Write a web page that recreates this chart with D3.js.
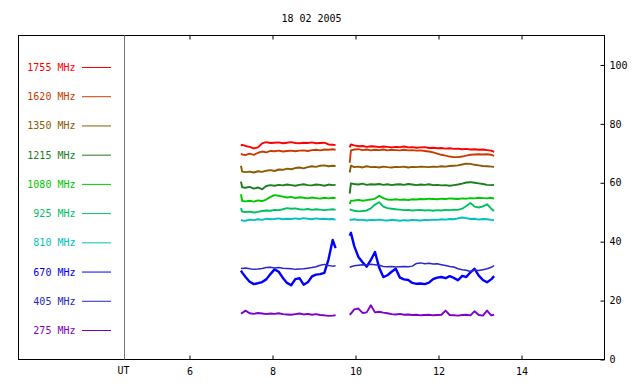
<!DOCTYPE html>
<html>
<head>
<meta charset="utf-8">
<script src="https://cdn.jsdelivr.net/npm/d3@7"></script>
<style>
  body { margin: 0; background: #fff; }
  text { font-family: "DejaVu Sans Mono", monospace; font-size: 10px; }
</style>
</head>
<body>
<div id="chart"></div>
<script>
const width = 640, height = 384;
const frame = {left: 18.5, right: 604.5, top: 35.5, bottom: 359.5, ut: 124.5};

const title = "18 02 2005";
const freqs = ["1755 MHz", "1620 MHz", "1350 MHz", "1215 MHz", "1080 MHz",
    "925 MHz", "810 MHz", "670 MHz", "405 MHz", "275 MHz"];
const colors = ["#ff0000", "#c83c00", "#8c5a00", "#1e7d1e", "#00c800",
    "#00c064", "#00c0c0", "#0000ff", "#2828c8", "#8000c8"];
const hourTicks = [6, 8, 10, 12, 14];
const fluxTicks = [0, 20, 40, 60, 80, 100];

// time (UT hours) of the two observing runs
const t1 = [7.24, 7.27, 7.35, 7.45, 7.55, 7.65, 7.75, 7.85, 7.95, 8.05, 8.15, 8.25, 8.35,
    8.45, 8.55, 8.65, 8.75, 8.85, 8.95, 9.05, 9.15, 9.25, 9.35, 9.45, 9.52];
const t2 = [9.86, 9.89, 9.97, 10.07, 10.17, 10.27, 10.37, 10.47, 10.57, 10.67, 10.77, 10.87,
    10.97, 11.07, 11.17, 11.27, 11.37, 11.47, 11.57, 11.67, 11.77, 11.87, 11.97, 12.07, 12.17,
    12.27, 12.37, 12.47, 12.57, 12.67, 12.77, 12.87, 12.97, 13.07, 13.17, 13.27, 13.34];

const f1755a = [72.6, 72.9, 72.5, 72.2, 71.7, 72.0, 73.4, 73.8, 73.5, 73.6, 73.7, 73.4, 73.6, 73.8, 73.5, 73.4, 73.6, 73.5, 73.7, 73.4, 73.5, 73.6, 73.0, 72.9, 72.8];
const f1755b = [72.0, 73.0, 72.7, 72.4, 72.5, 72.2, 72.4, 72.3, 72.1, 72.3, 72.2, 72.0, 72.2, 72.1, 72.3, 72.0, 72.1, 71.9, 72.0, 72.1, 71.8, 71.9, 71.7, 71.8, 71.6, 71.7, 71.5, 71.6, 71.4, 71.5, 71.3, 71.4, 71.2, 71.3, 71.1, 70.9, 70.5];
const f1620a = [69.9, 69.6, 69.4, 69.9, 69.5, 70.2, 70.6, 70.3, 70.8, 70.7, 70.9, 70.6, 70.8, 70.9, 70.7, 70.9, 71.0, 70.8, 71.1, 71.2, 71.0, 71.3, 71.2, 71.4, 71.2];
const f1620b = [66.8, 71.0, 71.3, 71.4, 71.1, 71.3, 71.0, 71.2, 71.1, 71.3, 71.0, 71.2, 71.1, 71.0, 71.2, 71.0, 71.1, 70.9, 71.0, 70.8, 70.6, 70.3, 69.9, 69.5, 69.2, 68.9, 68.7, 68.7, 68.9, 69.2, 69.5, 69.6, 69.7, 69.6, 69.7, 69.5, 69.1];
const f1350a = [65.8, 63.8, 63.6, 63.8, 63.5, 63.9, 63.7, 64.1, 64.3, 64.0, 64.5, 64.4, 64.8, 64.6, 65.0, 65.2, 64.9, 65.3, 65.6, 65.4, 65.8, 65.9, 65.6, 65.8, 65.7];
const f1350b = [63.5, 65.8, 65.3, 65.5, 65.2, 65.6, 65.3, 65.4, 65.2, 65.5, 65.3, 65.2, 65.4, 65.3, 65.5, 65.2, 65.4, 65.3, 65.5, 65.4, 65.3, 65.5, 65.4, 65.6, 65.5, 65.7, 65.8, 65.9, 66.2, 66.5, 66.4, 66.1, 65.9, 65.7, 65.6, 65.5, 65.4];
const f1215a = [60.4, 58.5, 58.3, 58.6, 58.0, 58.4, 57.8, 58.9, 59.2, 59.0, 59.3, 59.1, 59.4, 59.2, 59.0, 59.3, 59.5, 59.2, 59.1, 59.4, 59.3, 59.0, 59.4, 59.2, 59.3];
const f1215b = [56.3, 59.8, 59.6, 59.4, 59.7, 59.3, 59.5, 59.4, 59.6, 59.3, 59.5, 59.2, 59.4, 59.5, 59.3, 59.6, 59.4, 59.2, 59.4, 59.3, 59.5, 59.2, 59.3, 59.1, 59.2, 59.0, 59.2, 59.4, 59.7, 60.1, 60.2, 60.0, 59.8, 59.6, 59.3, 59.2, 59.3];
const f1080a = [56.1, 53.8, 53.7, 53.9, 53.6, 54.0, 53.8, 54.3, 55.2, 55.8, 55.6, 55.3, 55.0, 55.2, 54.8, 55.1, 54.9, 54.7, 55.0, 54.8, 54.6, 54.9, 54.7, 54.9, 54.8];
const f1080b = [52.8, 53.9, 54.0, 54.2, 53.9, 54.1, 54.3, 54.6, 55.6, 54.8, 54.3, 54.2, 54.4, 54.2, 54.3, 54.1, 54.4, 54.3, 54.5, 54.4, 54.6, 54.5, 54.4, 54.6, 54.5, 54.7, 54.6, 54.5, 54.7, 54.6, 54.8, 54.7, 54.9, 54.8, 54.7, 54.9, 54.6];
const f925a = [51.4, 50.2, 50.1, 50.2, 49.9, 50.1, 50.4, 50.6, 50.5, 50.8, 50.7, 51.0, 51.4, 51.2, 51.3, 51.0, 50.9, 51.1, 50.8, 51.0, 50.9, 50.7, 50.9, 51.0, 50.8];
const f925b = [51.0, 50.8, 50.5, 50.3, 50.4, 50.6, 51.3, 52.6, 53.4, 51.9, 51.4, 51.2, 51.0, 50.9, 50.7, 50.8, 50.6, 50.7, 50.8, 50.6, 50.7, 50.5, 50.7, 50.6, 50.8, 50.7, 50.9, 50.8, 51.2, 52.1, 53.1, 51.9, 51.6, 52.0, 52.7, 51.2, 50.4];
const f810a = [47.4, 47.2, 47.1, 47.5, 47.3, 47.6, 47.4, 47.8, 47.6, 47.7, 47.9, 47.6, 47.8, 47.7, 47.9, 47.7, 48.0, 47.8, 47.6, 47.9, 47.7, 47.8, 47.6, 47.7, 47.5];
const f810b = [47.6, 47.4, 47.6, 47.3, 47.5, 47.2, 47.4, 47.3, 47.5, 47.3, 47.2, 47.4, 47.3, 47.1, 47.3, 47.2, 47.4, 47.3, 47.2, 47.4, 47.3, 47.5, 47.4, 47.6, 47.5, 47.7, 47.6, 47.9, 48.2, 48.0, 47.7, 47.8, 47.5, 47.7, 47.6, 47.4, 47.3];
const f670a = [30.2, 29.5, 28.0, 26.4, 25.6, 25.9, 26.3, 27.2, 29.0, 30.6, 29.8, 27.7, 26.0, 25.2, 27.3, 27.6, 25.4, 26.2, 28.2, 28.8, 29.0, 29.4, 34.0, 40.6, 37.8];
const f670b = [42.0, 43.0, 38.5, 34.8, 33.0, 31.5, 33.8, 36.5, 31.2, 28.0, 28.6, 29.8, 30.8, 27.8, 27.2, 27.0, 26.0, 25.7, 25.8, 25.6, 26.1, 27.3, 27.8, 28.0, 27.6, 28.3, 27.7, 26.9, 28.4, 28.0, 29.6, 30.8, 28.5, 27.0, 26.2, 27.2, 28.3];
const f405a = [31.0, 30.9, 31.1, 30.8, 30.6, 30.7, 30.9, 31.2, 31.3, 31.1, 31.2, 31.0, 30.9, 30.8, 30.6, 30.7, 30.8, 31.0, 31.2, 31.5, 32.0, 32.3, 31.9, 31.7, 31.8];
const f405b = [31.3, 31.5, 31.8, 32.0, 32.2, 32.1, 32.3, 32.2, 32.0, 31.6, 31.5, 31.6, 31.4, 31.5, 31.6, 31.5, 31.7, 32.6, 32.8, 32.5, 32.7, 32.4, 32.5, 32.2, 31.9, 31.6, 31.4, 30.8, 30.5, 30.3, 29.9, 30.4, 30.2, 30.5, 30.8, 31.3, 31.9];
const f275a = [15.6, 15.8, 16.6, 15.7, 15.5, 15.8, 15.6, 15.4, 15.6, 15.5, 15.7, 15.4, 15.3, 15.2, 15.4, 15.6, 15.3, 15.5, 15.2, 15.4, 15.1, 15.0, 14.8, 14.9, 15.0];
const f275b = [15.2, 15.6, 17.0, 17.3, 15.8, 16.0, 18.4, 16.0, 16.2, 15.9, 15.7, 15.4, 15.3, 15.5, 15.2, 15.3, 15.1, 15.2, 15.0, 15.1, 15.2, 15.0, 15.1, 15.2, 16.6, 15.1, 15.0, 14.9, 15.1, 15.2, 15.0, 16.4, 15.1, 14.9, 16.6, 15.0, 15.2];

const runsA = [f1755a, f1620a, f1350a, f1215a, f1080a, f925a, f810a, f670a, f405a, f275a];
const runsB = [f1755b, f1620b, f1350b, f1215b, f1080b, f925b, f810b, f670b, f405b, f275b];

const svg = d3.select("#chart")
    .append("svg")
    .attr("width", width)
    .attr("height", height);

const x = d3.scaleLinear()
    .domain([6, 14])
    .range([189.5, 521.5]);

const y = d3.scaleLinear()
    .domain([0, 110])
    .range([frame.bottom, frame.top]);

const legendY = d3.scalePoint()
    .domain(freqs)
    .range([67.5, 330.5]);

svg.append("text")
    .attr("x", (frame.left + frame.right) / 2)
    .attr("y", 18)
    .attr("dy", "0.35em")
    .attr("text-anchor", "middle")
    .text(title);

// frame
svg.append("rect")
    .attr("x", frame.left)
    .attr("y", frame.top)
    .attr("width", frame.right - frame.left)
    .attr("height", frame.bottom - frame.top)
    .style("fill", "none")
    .style("stroke", "#000");

svg.append("line")
    .attr("x1", frame.ut).attr("x2", frame.ut)
    .attr("y1", frame.top).attr("y2", frame.bottom)
    .style("stroke", "#777");

svg.append("text")
    .attr("x", frame.ut - 1)
    .attr("y", 370)
    .attr("dy", "0.35em")
    .attr("text-anchor", "middle")
    .text("UT");

// axes
const bottomAxis = svg.append("g")
    .attr("transform", `translate(0, ${frame.bottom})`)
    .call(d3.axisBottom(x).tickValues(hourTicks).tickSize(-4).tickPadding(8));
const topAxis = svg.append("g")
    .attr("transform", `translate(0, ${frame.top})`)
    .call(d3.axisTop(x).tickValues(hourTicks).tickSize(-4).tickFormat(""));
const rightAxis = svg.append("g")
    .attr("transform", `translate(${frame.right}, 0)`)
    .call(d3.axisRight(y).tickValues(fluxTicks).tickSize(-4).tickPadding(5));

[bottomAxis, topAxis, rightAxis].forEach(g => {
    g.select(".domain").remove();
    g.selectAll("text").style("font-family", "DejaVu Sans Mono, monospace").style("font-size", "10px").attr("fill", "#000");
});
bottomAxis.selectAll("text").attr("dy", "0.35em").attr("y", 12);

// legend
const legend = svg.append("g");
freqs.forEach((f, i) => {
    legend.append("text")
        .attr("x", 75.5)
        .attr("y", legendY(f))
        .attr("dy", "0.35em")
        .attr("text-anchor", "end")
        .style("fill", colors[i])
        .text(f);
    legend.append("line")
        .attr("x1", 82).attr("x2", 111)
        .attr("y1", legendY(f)).attr("y2", legendY(f))
        .style("stroke", colors[i]);
});

// flux curves
const line = d3.line()
    .x(d => x(d[0]))
    .y(d => y(d[1]));

const strokeFor = f => f === "670 MHz" ? 2.4 : (f === "405 MHz" ? 1.5 : 1.9);

freqs.forEach((f, i) => {
    [[t1, runsA[i]], [t2, runsB[i]]].forEach(([ts, vs]) => {
        svg.append("path")
            .datum(ts.map((t, k) => [t, vs[k]]))
            .attr("d", line)
            .style("fill", "none")
            .style("stroke", colors[i])
            .style("stroke-width", strokeFor(f))
            .style("stroke-linejoin", "round");
    });
});
</script>
</body>
</html>
